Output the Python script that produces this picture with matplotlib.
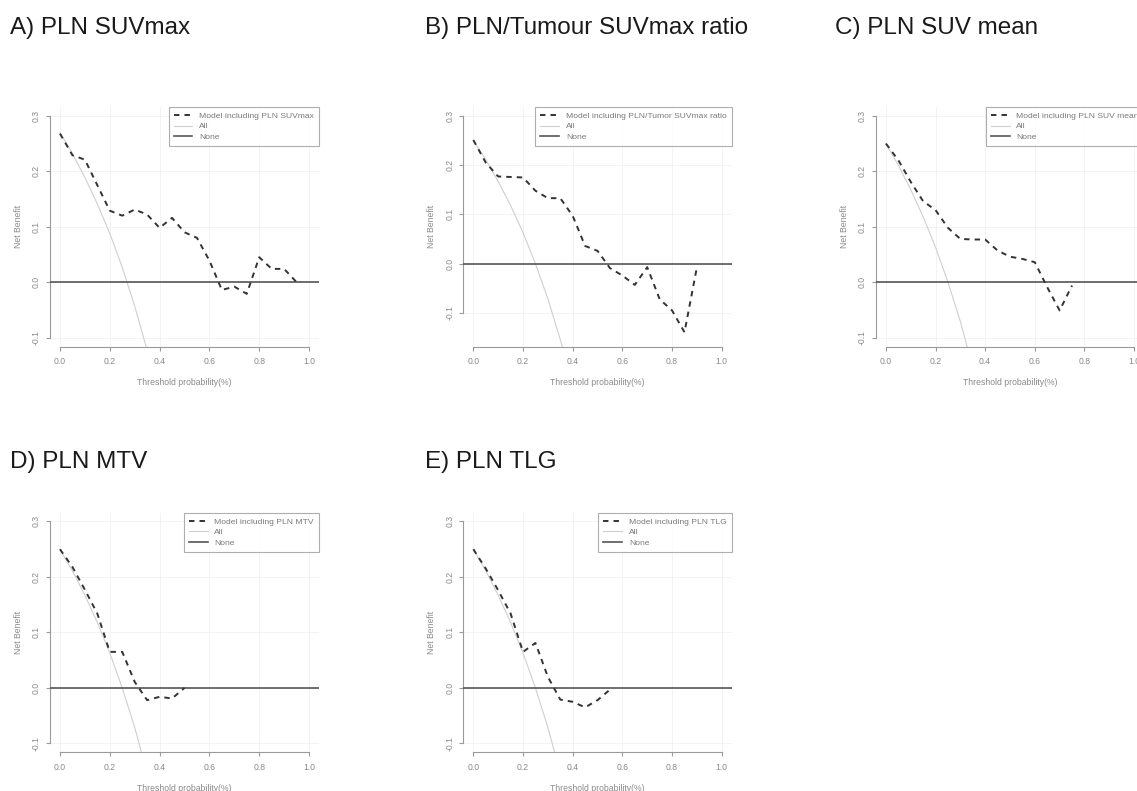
import matplotlib
matplotlib.use('Agg')
import matplotlib.pyplot as plt

plt.rcParams['font.family'] = ['Liberation Sans', 'DejaVu Sans']

# ---------------- data ----------------
titles = ["A) PLN SUVmax", "B) PLN/Tumour SUVmax ratio", "C) PLN SUV mean",
          "D) PLN MTV", "E) PLN TLG"]
legend_labels = ["Model including PLN SUVmax",
                 "Model including PLN/Tumor SUVmax ratio",
                 "Model including PLN SUV mean",
                 "Model including PLN MTV",
                 "Model including PLN TLG"]

thr_all = [0.00, 0.05, 0.10, 0.15, 0.20, 0.25, 0.30, 0.35, 0.40]
all_A = [0.270, 0.232, 0.189, 0.141, 0.088, 0.027, -0.043, -0.123, -0.217]
all_BCDE = [0.250, 0.211, 0.167, 0.118, 0.063, 0.000, -0.071, -0.154, -0.250]

thr_A = [0.00, 0.05, 0.10, 0.15, 0.20, 0.25, 0.30, 0.35, 0.40, 0.45,
         0.50, 0.55, 0.60, 0.65, 0.70, 0.75, 0.80, 0.85, 0.90, 0.95]
model_A = [0.268, 0.229, 0.221, 0.175, 0.129, 0.120, 0.131, 0.122, 0.098, 0.116,
           0.090, 0.080, 0.039, -0.014, -0.008, -0.021, 0.045, 0.024, 0.024, 0.000]

thr_B = [0.00, 0.05, 0.10, 0.15, 0.20, 0.25, 0.30, 0.35, 0.40, 0.45,
         0.50, 0.55, 0.60, 0.65, 0.70, 0.75, 0.80, 0.85, 0.90]
model_B = [0.251, 0.205, 0.177, 0.176, 0.175, 0.148, 0.133, 0.133, 0.097, 0.036,
           0.026, -0.009, -0.024, -0.043, -0.007, -0.072, -0.095, -0.139, -0.007]

thr_C = [0.00, 0.05, 0.10, 0.15, 0.20, 0.25, 0.30, 0.35, 0.40, 0.45,
         0.50, 0.55, 0.60, 0.65, 0.70, 0.75]
model_C = [0.250, 0.220, 0.181, 0.146, 0.130, 0.098, 0.078, 0.077, 0.077, 0.057,
           0.046, 0.042, 0.036, -0.009, -0.051, -0.006]

thr_D = [0.00, 0.05, 0.10, 0.15, 0.20, 0.25, 0.30, 0.35, 0.40, 0.45, 0.50]
model_D = [0.250, 0.218, 0.177, 0.134, 0.065, 0.065, 0.011, -0.022, -0.016, -0.019, 0.000]

thr_E = [0.00, 0.05, 0.10, 0.15, 0.20, 0.25, 0.30, 0.35, 0.40, 0.45, 0.50, 0.55]
model_E = [0.250, 0.215, 0.176, 0.134, 0.065, 0.081, 0.020, -0.021, -0.025, -0.035,
           -0.022, -0.003]

x_ticks = [0.0, 0.2, 0.4, 0.6, 0.8, 1.0]
y_ticks = [-0.1, 0.0, 0.1, 0.2, 0.3]
ylims = [(-0.1, 0.3), (-0.15, 0.3), (-0.1, 0.3), (-0.1, 0.3), (-0.1, 0.3)]

panels = [
    (thr_A, model_A, all_A),
    (thr_B, model_B, all_BCDE),
    (thr_C, model_C, all_BCDE),
    (thr_D, model_D, all_BCDE),
    (thr_E, model_E, all_BCDE),
]

# ---------------- layout ----------------
W, H = 1137, 791
fig = plt.figure(figsize=(W / 100, H / 100), dpi=100)
fig.patch.set_facecolor('white')

# (left px, top px, width px, height px)
boxes = [(50, 107, 269, 239.5), (463.4, 107, 268.3, 239.5), (876, 107, 268, 239.5),
         (50, 512.6, 269, 239.7), (463.4, 512.6, 268.3, 239.7)]
title_pos = [(10, 28), (425, 28), (835, 28), (10, 462), (425, 462)]

gray_txt = '#8a8a8a'
axis_col = '#9a9a9a'

for i, ((thr, model, allv), box) in enumerate(zip(panels, boxes)):
    l, t, w, h = box
    ax = fig.add_axes([l / W, 1 - (t + h) / H, w / W, h / H])
    ylo, yhi = ylims[i]
    ax.set_xlim(-0.04, 1.04)
    ax.set_ylim(ylo - 0.04 * (yhi - ylo), yhi + 0.04 * (yhi - ylo))

    for xv in x_ticks:
        ax.axvline(xv, color='#f1f1f1', lw=0.6, zorder=0)
    for yv in y_ticks:
        ax.axhline(yv, color='#f1f1f1', lw=0.6, zorder=0)

    ax.plot(thr_all, allv, color='#cfcfcf', lw=0.8, label='All', zorder=2)
    ax.axhline(0, color='#555555', lw=1.2, label='None', zorder=3)
    ax.plot(thr, model, color='#333333', lw=1.4, linestyle=(0, (2.8, 2.6)),
            label=legend_labels[i], zorder=4)

    for s in ['top', 'right']:
        ax.spines[s].set_visible(False)
    for s in ['left', 'bottom']:
        ax.spines[s].set_color(axis_col)
        ax.spines[s].set_linewidth(0.8)
    ax.spines['left'].set_bounds(-0.1, 0.3)
    ax.spines['bottom'].set_bounds(0.0, 1.0)

    ax.set_xticks(x_ticks)
    ax.set_xticklabels(['0.0', '0.2', '0.4', '0.6', '0.8', '1.0'])
    ax.set_yticks(y_ticks)
    ax.set_yticklabels(['-0.1', '0.0', '0.1', '0.2', '0.3'], rotation=90, va='center')
    ax.tick_params(axis='x', direction='out', length=3.2, width=0.8,
                   color=axis_col, labelcolor=gray_txt, labelsize=6.2, pad=4.3)
    ax.tick_params(axis='y', direction='out', length=3.2, width=0.8,
                   color=axis_col, labelcolor=gray_txt, labelsize=6.2, pad=3.4)

    ax.set_xlabel('Threshold probability(%)', fontsize=6.2, color=gray_txt, labelpad=9)
    ax.set_ylabel('Net Benefit', fontsize=6.2, color=gray_txt, labelpad=6.5)

    handles, labels = ax.get_legend_handles_labels()
    order = [2, 0, 1]
    leg = ax.legend([handles[k] for k in order], [labels[k] for k in order],
                    loc='upper right', bbox_to_anchor=(1.0, 1.0), borderaxespad=0,
                    fontsize=6.1, frameon=True, fancybox=False, handlelength=2.2,
                    handletextpad=0.8, borderpad=0.6, labelspacing=0.3)
    leg.get_frame().set_edgecolor('#9a9a9a')
    leg.get_frame().set_linewidth(0.8)
    for txt in leg.get_texts():
        txt.set_color('#7a7a7a')

    tx, ty = title_pos[i]
    fig.text(tx / W, 1 - ty / H, titles[i], fontsize=17.5, color='#1a1a1a',
             ha='left', va='center')

fig.savefig('out.png', dpi=100, facecolor='white')
